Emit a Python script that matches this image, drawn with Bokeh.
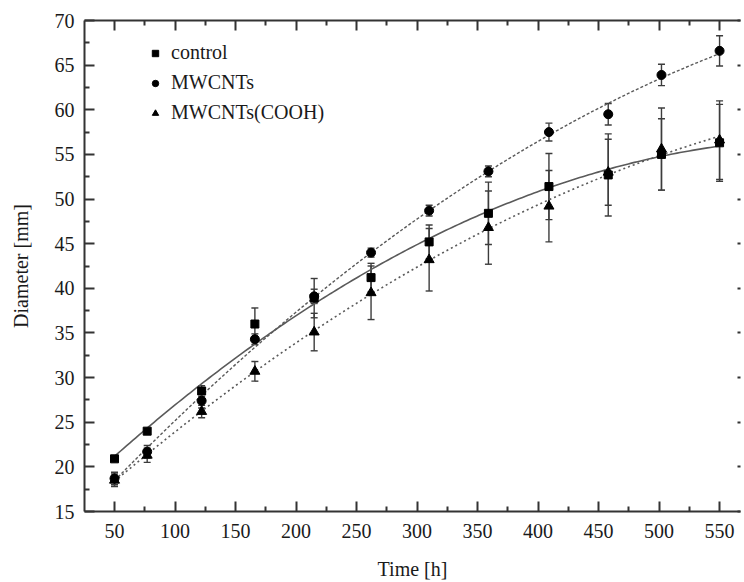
import numpy as np
from bokeh.plotting import figure
from bokeh.models import (Range1d, LinearAxis, FixedTicker, Whisker, TeeHead,
                          ColumnDataSource, Legend, LegendItem,
                          CustomLabelingPolicy)
from bokeh.embed import file_html
from bokeh.resources import INLINE

# Culture diameter over time, mean +/- SD
time_h = [50, 77, 122, 166, 215, 262, 310, 359, 409, 458, 502, 550]

control = [20.9, 24.0, 28.5, 36.0, 38.9, 41.2, 45.2, 48.4, 51.4, 52.7, 55.0, 56.3]
control_err = [0.3, 0.3, 0.6, 1.8, 2.2, 1.6, 1.9, 3.5, 3.7, 4.6, 4.0, 4.3]

mwcnts = [18.7, 21.7, 27.4, 34.3, 39.1, 44.0, 48.7, 53.1, 57.5, 59.5, 63.9, 66.6]
mwcnts_err = [0.7, 0.7, 0.8, 0.6, 0.8, 0.5, 0.6, 0.6, 1.0, 1.2, 1.2, 1.7]

cooh = [18.5, 21.3, 26.2, 30.7, 35.1, 39.5, 43.2, 46.8, 49.2, 53.0, 55.6, 56.6]
cooh_err = [0.7, 0.8, 0.7, 1.1, 2.1, 3.0, 3.5, 4.1, 4.0, 3.7, 4.6, 4.4]

x_ticks = list(range(50, 551, 50))
x_minor = list(range(25, 576, 50))
y_ticks = list(range(15, 71, 5))
y_minor = [v + 2.5 for v in range(15, 70, 5)]

FONT = "Liberation Serif"
AXIS_COLOR = "#333333"
TEXT_COLOR = "#1a1a1a"
FIT_COLOR = "#5a5a5a"
ERR_COLOR = "#3c3c3c"

p = figure(width=744, height=582,
           x_range=Range1d(25.2, 567.3), y_range=Range1d(15, 70),
           output_backend="svg", toolbar_location=None,
           min_border_left=84, min_border_right=0,
           min_border_top=20, min_border_bottom=70)
p.outline_line_color = None
p.xgrid.visible = False
p.ygrid.visible = False
p.background_fill_color = "white"
p.border_fill_color = "white"

# mirror axes carry ticks only, no labels
no_labels = CustomLabelingPolicy(code="""
    for (const i of Array.from(indices)) indices.unset(i)
    return indices
""")


def style_axis(ax, ticks, minor, labels=True, tick_len=10, minor_len=5):
    ax.ticker = FixedTicker(ticks=ticks, minor_ticks=minor)
    ax.axis_line_color = AXIS_COLOR
    ax.axis_line_width = 2
    ax.major_tick_line_color = AXIS_COLOR
    ax.major_tick_line_width = 2
    ax.minor_tick_line_color = AXIS_COLOR
    ax.minor_tick_line_width = 2
    ax.major_tick_in = tick_len
    ax.major_tick_out = 0
    ax.minor_tick_in = minor_len
    ax.minor_tick_out = 0
    ax.major_label_text_font = FONT
    ax.major_label_text_color = TEXT_COLOR
    ax.axis_label_text_font = FONT
    ax.axis_label_text_font_size = "20px"
    ax.axis_label_text_font_style = "normal"
    ax.axis_label_text_color = TEXT_COLOR
    if labels:
        ax.major_label_text_font_size = "20px"
    else:
        ax.major_label_text_font_size = "1px"
        ax.major_label_standoff = 0
        ax.major_label_policy = no_labels


style_axis(p.xaxis[0], x_ticks, x_minor)
p.xaxis[0].axis_label = "Time [h]"
p.xaxis[0].major_label_standoff = 12
p.xaxis[0].axis_label_standoff = 17

style_axis(p.yaxis[0], y_ticks, y_minor)
p.yaxis[0].axis_label = "Diameter [mm]"
p.yaxis[0].major_label_standoff = 10
p.yaxis[0].axis_label_standoff = 20

top = LinearAxis()
style_axis(top, x_ticks, x_minor, labels=False)
p.add_layout(top, "above")

right = LinearAxis()
style_axis(right, y_ticks, y_minor, labels=False, tick_len=3, minor_len=0)
right.axis_line_color = None
p.add_layout(right, "right")

# fitted trend curves (second-order polynomial fits of each series)
xs = np.linspace(min(time_h), max(time_h), 200)
fits = [(control, "solid", 1.6), (mwcnts, "3 2", 1.4), (cooh, "2 3", 1.6)]
for vals, dash, lw in fits:
    coeffs = np.polyfit(time_h, vals, 2)
    p.line(xs, np.polyval(coeffs, xs), line_color=FIT_COLOR,
           line_width=lw, line_dash=dash)

# error bars
for vals, errs in [(control, control_err), (mwcnts, mwcnts_err), (cooh, cooh_err)]:
    src = ColumnDataSource(dict(
        x=time_h,
        upper=[v + e for v, e in zip(vals, errs)],
        lower=[v - e for v, e in zip(vals, errs)],
    ))
    p.add_layout(Whisker(source=src, base="x", upper="upper", lower="lower",
                         line_color=ERR_COLOR, line_width=1.4,
                         upper_head=TeeHead(size=7, line_color=ERR_COLOR, line_width=1.4),
                         lower_head=TeeHead(size=7, line_color=ERR_COLOR, line_width=1.4)))

r_ctrl = p.scatter(time_h, control, marker="square", size=8, color="black")
r_mw = p.scatter(time_h, mwcnts, marker="circle", size=9, color="black")
r_cooh = p.scatter(time_h, cooh, marker="triangle", size=10, color="black")

legend = Legend(items=[LegendItem(label="control", renderers=[r_ctrl]),
                       LegendItem(label="MWCNTs", renderers=[r_mw]),
                       LegendItem(label="MWCNTs(COOH)", renderers=[r_cooh])],
                location=(63, 387))
legend.label_text_font = FONT
legend.label_text_font_size = "20px"
legend.label_text_color = TEXT_COLOR
legend.glyph_width = 16
legend.glyph_height = 20
legend.label_height = 20
legend.label_standoff = 8
legend.spacing = 7
legend.padding = 0
legend.margin = 0
legend.border_line_alpha = 0
legend.background_fill_alpha = 0
p.add_layout(legend)

open("out.html", "w").write(file_html(p, INLINE))
